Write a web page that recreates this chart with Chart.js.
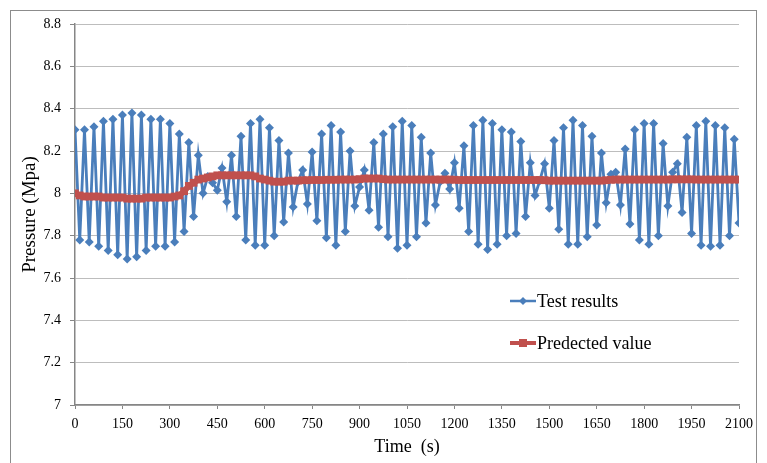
<!DOCTYPE html>
<html>
<head>
<meta charset="utf-8">
<title>Pressure vs time</title>
<script src="https://cdn.jsdelivr.net/npm/chart.js@4.4.1/dist/chart.umd.min.js"></script>
<style>
  html, body { margin: 0; padding: 0; background: #ffffff; }
  #wrap { width: 767px; height: 463px; position: relative; }
</style>
</head>
<body>
<div id="wrap"><canvas id="chart"></canvas></div>
<script>
// --- Data (one sample every 15 s) ---
const sampleStep = 15;
const xTicks = [0, 150, 300, 450, 600, 750, 900, 1050, 1200, 1350, 1500, 1650, 1800, 1950, 2100];
const yTicks = [7, 7.2, 7.4, 7.6, 7.8, 8, 8.2, 8.4, 8.6, 8.8];

const testResults = [
    8.30, 7.78, 8.30, 7.77, 8.315, 7.75, 8.34, 7.73, 8.35, 7.71,
    8.37, 7.69, 8.38, 7.70, 8.37, 7.73, 8.35, 7.75, 8.35, 7.75,
    8.33, 7.77, 8.28, 7.82, 8.24, 7.89, 8.18, 8.00, 8.08, 8.05,
    8.015, 8.12, 7.96, 8.18, 7.89, 8.27, 7.78, 8.33, 7.755, 8.35,
    7.755, 8.31, 7.80, 8.25, 7.865, 8.19, 7.935, 8.055, 8.11, 7.95,
    8.195, 7.87, 8.28, 7.79, 8.32, 7.755, 8.29, 7.82, 8.20, 7.94,
    8.03, 8.11, 7.92, 8.24, 7.84, 8.28, 7.795, 8.315, 7.74, 8.34,
    7.755, 8.32, 7.795, 8.265, 7.86, 8.19, 7.945, 8.055, 8.095, 8.02,
    8.145, 7.93, 8.225, 7.82, 8.32, 7.76, 8.345, 7.735, 8.33, 7.76,
    8.30, 7.80, 8.29, 7.81, 8.245, 7.89, 8.145, 7.99, 8.06, 8.14,
    7.93, 8.25, 7.83, 8.31, 7.76, 8.345, 7.76, 8.32, 7.795, 8.27,
    7.85, 8.19, 7.955, 8.09, 8.10, 7.945, 8.21, 7.855, 8.30, 7.78,
    8.33, 7.76, 8.33, 7.80, 8.235, 7.94, 8.10, 8.14, 7.91, 8.265,
    7.81, 8.32, 7.755, 8.34, 7.75, 8.32, 7.755, 8.31, 7.80, 8.255,
    7.86
];

const predictedValues = [
    8.00, 7.99, 7.985, 7.985, 7.985, 7.985, 7.98, 7.98, 7.98, 7.98,
    7.98, 7.975, 7.975, 7.975, 7.975, 7.98, 7.98, 7.98, 7.98, 7.98,
    7.98, 7.985, 7.99, 8.01, 8.035, 8.05, 8.065, 8.07, 8.075, 8.08,
    8.085, 8.085, 8.085, 8.085, 8.085, 8.085, 8.085, 8.085, 8.08, 8.07,
    8.065, 8.06, 8.055, 8.055, 8.055, 8.06, 8.06, 8.06, 8.062, 8.062,
    8.063, 8.063, 8.063, 8.064, 8.064, 8.064, 8.065, 8.065, 8.065, 8.065,
    8.067, 8.07, 8.07, 8.07, 8.07, 8.067, 8.065, 8.065, 8.065, 8.065,
    8.065, 8.065, 8.065, 8.065, 8.065, 8.065, 8.065, 8.065, 8.065, 8.065,
    8.064, 8.063, 8.063, 8.063, 8.063, 8.063, 8.063, 8.063, 8.063, 8.063,
    8.063, 8.063, 8.063, 8.063, 8.063, 8.063, 8.063, 8.063, 8.063, 8.062,
    8.06, 8.06, 8.06, 8.06, 8.06, 8.06, 8.06, 8.06, 8.06, 8.06,
    8.06, 8.06, 8.062, 8.064, 8.065, 8.065, 8.065, 8.065, 8.065, 8.065,
    8.065, 8.065, 8.065, 8.065, 8.065, 8.065, 8.066, 8.066, 8.066, 8.066,
    8.066, 8.065, 8.065, 8.065, 8.065, 8.065, 8.065, 8.065, 8.065, 8.065,
    8.065
];

const seriesNames = ['Test results', 'Predected value'];
const blue = '#4a7ebb';
const red = '#c0504d';

const toPoints = (vals) => vals.map((v, i) => ({ x: i * sampleStep, y: v }));

// --- Plugins: outer frame and in-plot legend ---
const framePlugin = {
    id: 'frame',
    beforeDraw(chart) {
        const ctx = chart.ctx;
        ctx.save();
        ctx.fillStyle = '#ffffff';
        ctx.fillRect(0, 0, chart.width, chart.height);
        ctx.strokeStyle = '#8c8c8c';
        ctx.lineWidth = 1;
        ctx.strokeRect(10.5, 10.5, 746, 470);
        ctx.restore();
    }
};

const legendPlugin = {
    id: 'inlineLegend',
    afterDraw(chart) {
        const ctx = chart.ctx;
        const rows = [{ y: 301 }, { y: 343 }];
        ctx.save();
        ctx.font = '18px "Liberation Serif", "DejaVu Serif", serif';
        ctx.textBaseline = 'middle';
        chart.data.datasets.forEach((ds, i) => {
            const y = rows[i].y;
            ctx.strokeStyle = ds.borderColor;
            ctx.lineWidth = i === 0 ? 2.5 : 4;
            ctx.beginPath();
            ctx.moveTo(510, y);
            ctx.lineTo(536, y);
            ctx.stroke();
            ctx.fillStyle = ds.borderColor;
            if (i === 0) {
                ctx.beginPath();
                ctx.moveTo(523, y - 4);
                ctx.lineTo(527, y);
                ctx.lineTo(523, y + 4);
                ctx.lineTo(519, y);
                ctx.closePath();
                ctx.fill();
            } else {
                ctx.fillRect(519, y - 4, 8, 8);
            }
            ctx.fillStyle = '#000000';
            ctx.fillText(ds.label, 537, y + 1);
        });
        ctx.restore();
    }
};

const serifFont = '"Liberation Serif", "DejaVu Serif", serif';

new Chart(document.getElementById('chart'), {
    type: 'line',
    data: {
        datasets: [
            {
                label: seriesNames[0],
                data: toPoints(testResults),
                borderColor: blue,
                backgroundColor: blue,
                borderWidth: 2.8,
                pointStyle: 'rectRot',
                pointRadius: 4.5,
                pointBorderWidth: 0,
                tension: 0,
                order: 1
            },
            {
                label: seriesNames[1],
                data: toPoints(predictedValues),
                borderColor: red,
                backgroundColor: red,
                borderWidth: 6,
                pointStyle: 'rect',
                pointRadius: 5.5,
                pointBorderWidth: 0,
                tension: 0,
                order: 0
            }
        ]
    },
    options: {
        responsive: true,
        maintainAspectRatio: false,
        animation: false,
        layout: { padding: { left: 0, right: 28, top: 24, bottom: 0 } },
        plugins: {
            legend: { display: false },
            tooltip: { enabled: false }
        },
        scales: {
            x: {
                type: 'linear',
                min: 0,
                max: 2100,
                afterBuildTicks: (scale) => { scale.ticks = xTicks.map(v => ({ value: v })); },
                afterFit: (scale) => { scale.height = 58; },
                border: { color: '#868686', width: 1.5 },
                grid: {
                    drawOnChartArea: false,
                    drawTicks: true,
                    tickLength: 4,
                    tickColor: '#868686'
                },
                ticks: {
                    color: '#000000',
                    padding: 7,
                    maxRotation: 0,
                    font: { family: serifFont, size: 14 },
                    callback: (v) => String(v)
                },
                title: {
                    display: true,
                    text: 'Time  (s)',
                    color: '#000000',
                    font: { family: serifFont, size: 18 },
                    padding: { top: 0, bottom: 5 }
                }
            },
            y: {
                min: 7,
                max: 8.8,
                afterBuildTicks: (scale) => { scale.ticks = yTicks.map(v => ({ value: v })); },
                afterFit: (scale) => { scale.width = 75; },
                border: { color: '#868686', width: 1.5 },
                grid: {
                    color: '#bdbdbd',
                    lineWidth: 1,
                    drawTicks: true,
                    tickLength: 5,
                    tickColor: '#868686'
                },
                ticks: {
                    color: '#000000',
                    padding: 9,
                    font: { family: serifFont, size: 14 },
                    callback: (v) => String(Number(v.toFixed(1)))
                },
                title: {
                    display: true,
                    text: 'Pressure (Mpa)',
                    color: '#000000',
                    font: { family: serifFont, size: 19 },
                    padding: { top: 19, bottom: 0 }
                }
            }
        }
    },
    plugins: [framePlugin, legendPlugin]
});
</script>
</body>
</html>
